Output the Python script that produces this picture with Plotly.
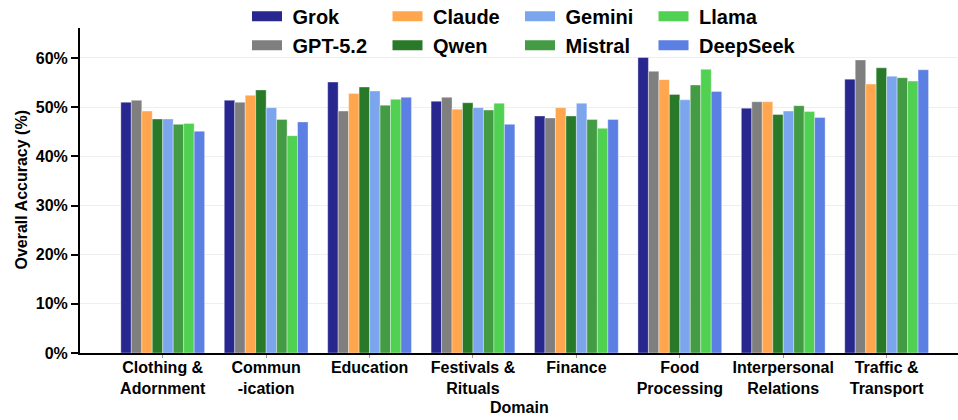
import plotly.graph_objects as go

domains = ["Clothing &<br>Adornment", "Commun<br>-ication", "Education", "Festivals &<br>Rituals",
           "Finance", "Food<br>Processing", "Interpersonal<br>Relations", "Traffic &<br>Transport"]

models = ["Grok", "GPT-5.2", "Claude", "Qwen", "Gemini", "Mistral", "Llama", "DeepSeek"]
colors = ["#27278f", "#7f7f7f", "#ffa64f", "#287a28", "#7ba6ee", "#439c43", "#51d151", "#5b7fe3"]

grok     = [51.0, 51.4, 55.1, 51.2, 48.2, 60.1, 49.8, 55.7]
gpt52    = [51.4, 51.0, 49.2, 52.0, 47.8, 57.3, 51.1, 59.6]
claude   = [49.2, 52.4, 52.8, 49.6, 49.9, 55.6, 51.1, 54.7]
qwen     = [47.6, 53.5, 54.1, 50.9, 48.2, 52.6, 48.5, 58.0]
gemini   = [47.6, 49.9, 53.3, 49.9, 50.8, 51.5, 49.2, 56.3]
mistral  = [46.5, 47.5, 50.4, 49.4, 47.5, 54.5, 50.3, 56.0]
llama    = [46.7, 44.2, 51.6, 50.8, 45.7, 57.7, 49.1, 55.3]
deepseek = [45.1, 47.0, 52.0, 46.5, 47.5, 53.2, 47.9, 57.6]

series = [grok, gpt52, claude, qwen, gemini, mistral, llama, deepseek]
# legend laid out in 4 columns of 2 (column-major, as in the reference)
legend_of = ["legend", "legend", "legend2", "legend2", "legend3", "legend3", "legend4", "legend4"]
legend_x = [247, 387.5, 520, 653.5]

x_title = "Domain"
y_title = "Overall Accuracy (%)"

FONT = "Liberation Sans, Arial, sans-serif"

fig = go.Figure()
for name, col, vals in zip(models, colors, series):
    fig.add_trace(go.Bar(
        x=domains, y=[v / 100 for v in vals], name=name,
        marker=dict(color=col, line=dict(color="rgba(255,255,255,0.6)", width=0.6)),
        showlegend=False,
    ))
# legend swatches (wide rectangles)
for name, col, lg in zip(models, colors, legend_of):
    fig.add_trace(go.Scatter(
        x=[None], y=[None], mode="lines", name="\u00a0" + name,
        line=dict(color=col, width=13), legend=lg, showlegend=True,
    ))

L, R, T, B = 80, 0, 28, 67
W, H = 958, 420
PW, PH = W - L - R, H - T - B

leg_common = dict(orientation="v", xref="container", yref="container",
                  xanchor="left", yanchor="middle",
                  font=dict(family=FONT, size=20, color="black", weight="bold"),
                  itemwidth=30, bgcolor="rgba(0,0,0,0)", tracegroupgap=0,
                  traceorder="normal")
ymid = 1 - 30.85 / H

fig.update_layout(
    width=W, height=H,
    margin=dict(l=L, r=R, t=T, b=B, autoexpand=False),
    paper_bgcolor="white", plot_bgcolor="white",
    font=dict(family=FONT, size=16, color="black"),
    barmode="group", bargap=0.19, bargroupgap=0,
    legend=dict(x=legend_x[0] / W, y=ymid, **leg_common),
    legend2=dict(x=legend_x[1] / W, y=ymid, **leg_common),
    legend3=dict(x=legend_x[2] / W, y=ymid, **leg_common),
    legend4=dict(x=legend_x[3] / W, y=ymid, **leg_common),
    xaxis=dict(
        type="category", categoryorder="array", categoryarray=domains,
        range=[-0.80, 7.69], automargin=False,
        showline=True, linecolor="black", linewidth=2,
        ticks="outside", ticklen=3, tickwidth=1, tickcolor="#999",
        ticklabelstandoff=-4,
        tickfont=dict(family=FONT, size=16, color="black", weight="bold"),
        showgrid=False,
    ),
    yaxis=dict(
        range=[0, 0.661], tickformat=".0%", dtick=0.1, automargin=False,
        showline=True, linecolor="black", linewidth=2,
        ticks="outside", ticklen=7, tickwidth=1.5, tickcolor="black",
        tickfont=dict(family=FONT, size=16, color="black", weight="bold"),
        showgrid=True, gridcolor="#eeeeee", gridwidth=1,
        zeroline=False,
    ),
    annotations=[
        dict(text=x_title, xref="paper", yref="paper",
             x=(519 - L) / PW, y=-(407 - (H - B)) / PH,
             xanchor="center", yanchor="middle", showarrow=False,
             font=dict(family=FONT, size=16, color="black", weight="bold")),
        dict(text=y_title, xref="paper", yref="paper",
             x=-(L - 21) / PW, y=0.5, textangle=-90,
             xanchor="center", yanchor="middle", showarrow=False,
             font=dict(family=FONT, size=16, color="black", weight="bold")),
    ],
)

fig.write_html("out.html", config={"displayModeBar": False},
               post_script="document.body.style.margin='0px';")
